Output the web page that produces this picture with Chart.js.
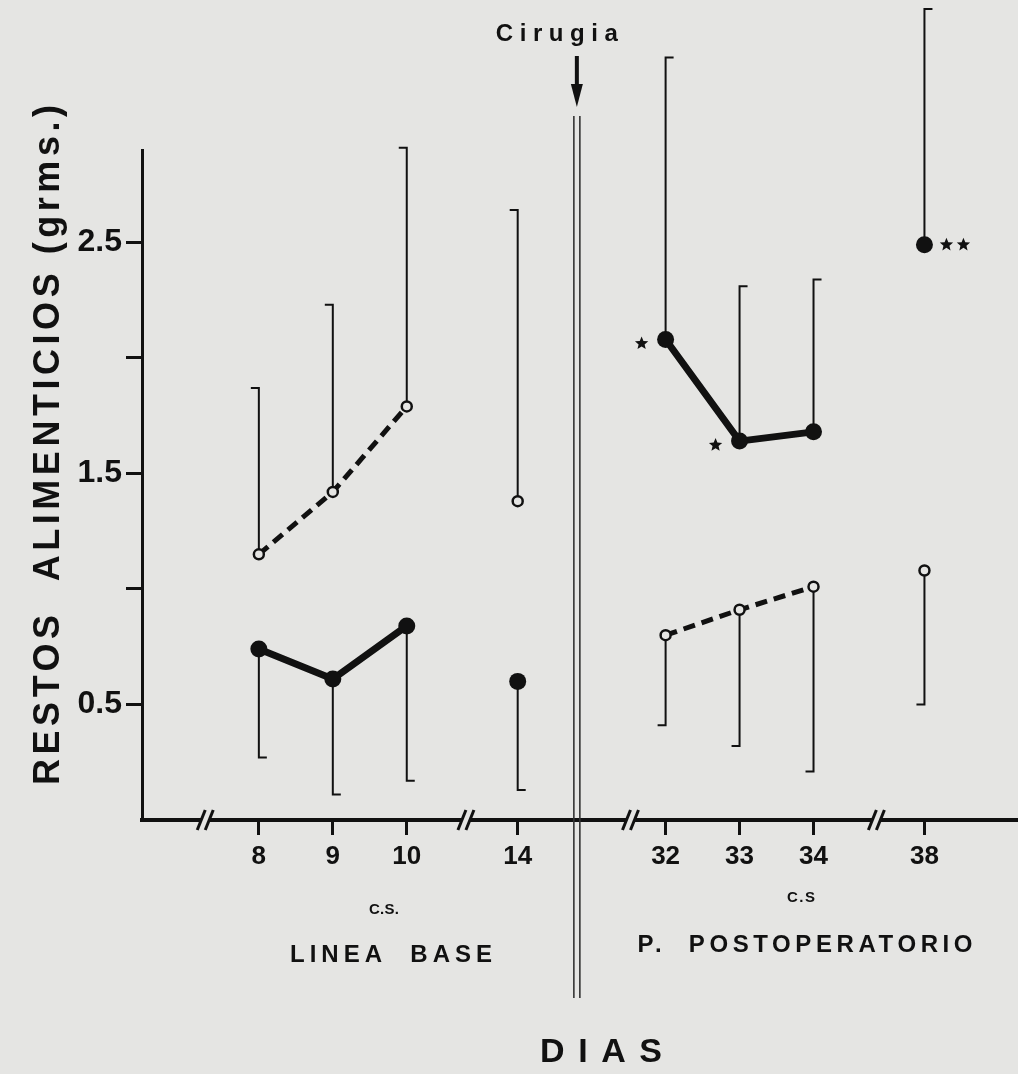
<!DOCTYPE html>
<html>
<head>
<meta charset="utf-8">
<script src="https://cdn.jsdelivr.net/npm/chart.js@4.4.1/dist/chart.umd.min.js"></script>
<style>
  html, body { margin: 0; padding: 0; background: #e5e5e3; }
</style>
</head>
<body>
<canvas id="chart" width="1018" height="1074"></canvas>
<script>
// data
const days = ['8', '9', '10', '14', '32', '33', '34', '38'];
const filledMean = [0.74, 0.61, 0.84, 0.60, 2.08, 1.64, 1.68, 2.49];
const filledBarEnd = [0.27, 0.11, 0.17, 0.13, 3.30, 2.31, 2.34, 3.51];
const openMean = [1.15, 1.42, 1.79, 1.38, 0.80, 0.91, 1.01, 1.08];
const openBarEnd = [1.87, 2.23, 2.91, 2.64, 0.41, 0.32, 0.21, 0.50];
const stars = ['', '', '', '', '*', '*', '', '**'];
// which days are joined by a line
const segments = [[0, 1, 2], [3], [4, 5, 6], [7]];
const yLabels = [0.5, 1.5, 2.5];

// axis layout (broken axis): slot of each day, break marks, surgery line
const slots = [0, 2, 4, 7, 11, 13, 15, 18];
const breaks = [-1.45, 5.6, 10.05, 16.7];
const surgerySlot = 8.6;

const BG = '#e5e5e3';
const INK = '#111';
const FONT = "'Liberation Sans', Arial, sans-serif";

function buildSeries(values) {
    const out = [];
    segments.forEach((seg, k) => {
        if (k > 0) out.push({ x: null, y: null });
        seg.forEach(i => out.push({ x: slots[i], y: values[i] }));
    });
    return out;
}

function fitText(ctx, text, cx, cy, width, font, angle) {
    ctx.save();
    ctx.font = font;
    ctx.letterSpacing = '0px';
    const raw = ctx.measureText(text).width;
    const gap = (width - raw) / Math.max(1, text.length - 1);
    ctx.letterSpacing = gap + 'px';
    ctx.translate(cx, cy);
    if (angle) ctx.rotate(angle);
    ctx.textAlign = 'left';
    ctx.textBaseline = 'middle';
    ctx.fillStyle = INK;
    ctx.fillText(text, -width / 2, 0);
    ctx.restore();
}

function star(ctx, x, y, r) {
    ctx.beginPath();
    for (let k = 0; k < 10; k++) {
        const rr = k % 2 ? r * 0.45 : r;
        const a = -Math.PI / 2 + k * Math.PI / 5;
        ctx.lineTo(x + rr * Math.cos(a), y + rr * Math.sin(a));
    }
    ctx.closePath();
    ctx.fill();
}

const decor = {
    id: 'decor',
    beforeDraw(chart) {
        const ctx = chart.ctx;
        ctx.save();
        ctx.fillStyle = BG;
        ctx.fillRect(0, 0, chart.width, chart.height);
        ctx.restore();
    },
    beforeDatasetsDraw(chart) {
        const { ctx, scales: { x, y } } = chart;
        ctx.save();
        ctx.strokeStyle = INK;
        ctx.lineWidth = 2;
        const bars = [
            [filledMean, filledBarEnd, 1],
            [openMean, openBarEnd, -1]
        ];
        bars.forEach(([mean, end, dir]) => {
            mean.forEach((m, i) => {
                const px = x.getPixelForValue(slots[i]);
                const y1 = y.getPixelForValue(m);
                const y2 = y.getPixelForValue(end[i]);
                ctx.beginPath();
                ctx.moveTo(px, y1);
                ctx.lineTo(px, y2);
                ctx.lineTo(px + dir * 8, y2);
                ctx.stroke();
            });
        });
        ctx.restore();
    },
    afterDraw(chart) {
        const { ctx, scales: { x, y } } = chart;
        const axisY = y.bottom;
        ctx.save();
        // run the x axis out to the page edge
        ctx.strokeStyle = INK;
        ctx.lineWidth = 4;
        ctx.beginPath();
        ctx.moveTo(x.right - 2, axisY);
        ctx.lineTo(chart.width, axisY);
        ctx.stroke();
        // axis breaks
        breaks.forEach(b => {
            const px = x.getPixelForValue(b);
            ctx.fillStyle = BG;
            ctx.fillRect(px - 4, axisY - 4, 8, 8);
            ctx.strokeStyle = INK;
            ctx.lineWidth = 3;
            [-4, 4].forEach(o => {
                ctx.beginPath();
                ctx.moveTo(px + o - 4, axisY + 10);
                ctx.lineTo(px + o + 4, axisY - 10);
                ctx.stroke();
            });
        });
        // surgery double line and arrow
        const sx = x.getPixelForValue(surgerySlot);
        ctx.strokeStyle = '#333';
        ctx.lineWidth = 1.6;
        [-3, 3].forEach(o => {
            ctx.beginPath();
            ctx.moveTo(sx + o, 116);
            ctx.lineTo(sx + o, 998);
            ctx.stroke();
        });
        ctx.strokeStyle = INK;
        ctx.lineWidth = 4;
        ctx.beginPath();
        ctx.moveTo(sx, 56);
        ctx.lineTo(sx, 90);
        ctx.stroke();
        ctx.fillStyle = INK;
        ctx.beginPath();
        ctx.moveTo(sx - 6, 84);
        ctx.lineTo(sx + 6, 84);
        ctx.lineTo(sx, 107);
        ctx.closePath();
        ctx.fill();
        // stars next to significant points
        stars.forEach((s, i) => {
            if (!s) return;
            const px = x.getPixelForValue(slots[i]);
            const py = y.getPixelForValue(filledMean[i]);
            if (s === '*') {
                star(ctx, px - 24, py + 4, 7);
            } else {
                star(ctx, px + 22, py, 7);
                star(ctx, px + 39, py, 7);
            }
        });
        // texts
        fitText(ctx, 'RESTOS  ALIMENTICIOS (grms.)', 49, 445, 680, 'bold 36px ' + FONT, -Math.PI / 2);
        fitText(ctx, 'Cirugia', sx - 20, 34, 122, 'bold 24px ' + FONT);
        fitText(ctx, 'C.S.', 384, 910, 30, 'bold 15px ' + FONT);
        fitText(ctx, 'C.S', 801, 898, 28, 'bold 15px ' + FONT);
        fitText(ctx, 'LINEA  BASE', 391, 955, 202, 'bold 24px ' + FONT);
        fitText(ctx, 'P.  POSTOPERATORIO', 805, 945, 335, 'bold 24px ' + FONT);
        fitText(ctx, 'DIAS', 601, 1053, 122, 'bold 34px ' + FONT);
        ctx.restore();
    }
};

new Chart(document.getElementById('chart'), {
    type: 'line',
    data: {
        datasets: [{
            label: 'filled',
            data: buildSeries(filledMean),
            borderColor: INK,
            borderWidth: 7,
            pointRadius: 8.5,
            pointBackgroundColor: INK,
            pointBorderWidth: 0,
            spanGaps: false
        }, {
            label: 'open',
            data: buildSeries(openMean),
            borderColor: INK,
            borderWidth: 5,
            borderDash: [12, 7],
            pointRadius: 5,
            pointBackgroundColor: BG,
            pointBorderColor: INK,
            pointBorderWidth: 2.5,
            spanGaps: false
        }]
    },
    options: {
        responsive: false,
        animation: false,
        layout: { padding: { top: 150, left: 0, right: 0, bottom: 0 } },
        plugins: {
            legend: { display: false },
            tooltip: { enabled: false }
        },
        scales: {
            x: {
                type: 'linear',
                min: -3.16,
                max: 20.3,
                afterBuildTicks: scale => { scale.ticks = slots.map(v => ({ value: v })); },
                afterFit: scale => { scale.height = 254; },
                ticks: {
                    autoSkip: false,
                    maxRotation: 0,
                    padding: 6,
                    color: INK,
                    font: { family: FONT, size: 26, weight: 'bold' },
                    callback: v => days[slots.indexOf(v)] || ''
                },
                grid: { drawOnChartArea: false, tickLength: 15, tickWidth: 3, tickColor: INK },
                border: { color: INK, width: 4 }
            },
            y: {
                min: 0,
                max: 2.9,
                afterFit: scale => { scale.width = 142; },
                ticks: {
                    stepSize: 0.5,
                    padding: 4,
                    color: INK,
                    font: { family: FONT, size: 32, weight: 'bold' },
                    callback: v => yLabels.includes(v) ? v.toFixed(1) : ''
                },
                grid: {
                    drawOnChartArea: false,
                    tickLength: 16,
                    tickWidth: 3,
                    tickColor: c => (c.tick && c.tick.value > 0 && c.tick.value <= 2.5) ? INK : 'rgba(0,0,0,0)'
                },
                border: { color: INK, width: 3 }
            }
        }
    },
    plugins: [decor]
});
</script>
</body>
</html>
